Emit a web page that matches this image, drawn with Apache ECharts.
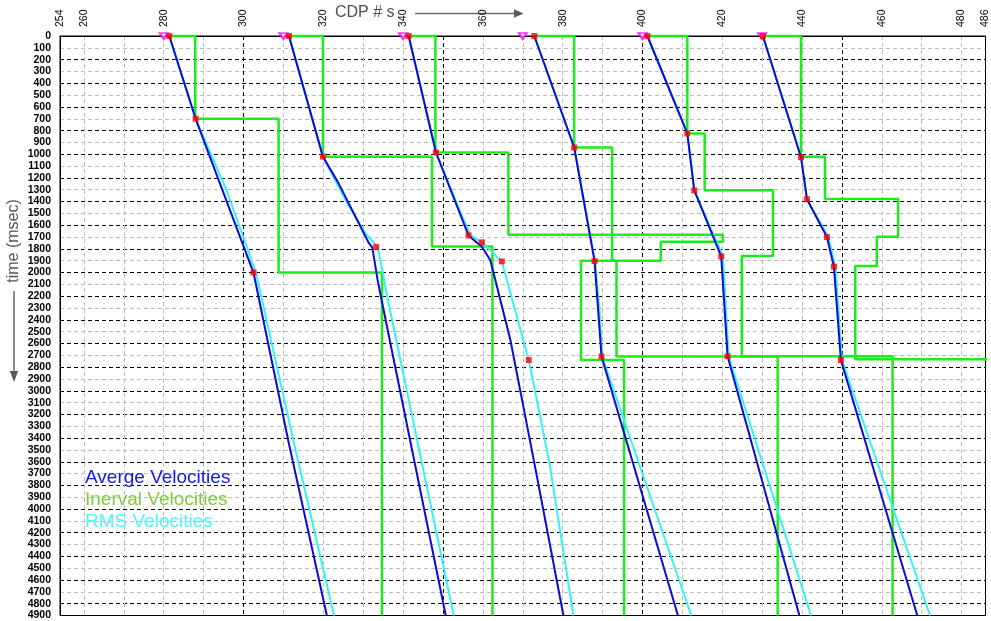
<!DOCTYPE html>
<html>
<head>
<meta charset="utf-8">
<script src="https://cdn.jsdelivr.net/npm/echarts@6/dist/echarts.min.js"></script>
<style>
  html, body { margin: 0; padding: 0; background: #fff; }
  #chart { width: 991px; height: 621px; }
</style>
</head>
<body>
<div id="chart"></div>
<script>
// axis values
const xLabelValues = [254, 260, 280, 300, 320, 340, 360, 380, 400, 420, 440, 460, 480, 486];
const xMinorGrid = [260, 270, 280, 290, 310, 320, 330, 340, 360, 370, 380, 390, 410, 420, 430, 440, 460, 470, 480];
const xMajorGrid = [300, 350, 400, 450];
const cdpLocations = [280, 310, 340, 370, 400, 430];

// [cdp, time] pairs
const avg280 = [[281.4, 0], [288.0, 700], [302.5, 2000], [311.4, 3450], [320.9, 4900]];
const rms280 = [[281.4, 0], [288.0, 700], [295.7, 1300], [303.1, 2000], [312.7, 3450], [322.7, 4900]];
const int280 = [[281.4, 0], [287.9, 0], [287.9, 700], [308.8, 700], [308.8, 2000], [334.7, 2000], [334.7, 4900]];
const picks280 = [[281.4, 0], [288.0, 700], [302.5, 2000]];

const avg310 = [[311.4, 0], [319.9, 1020], [323.9, 1250], [331.4, 1750], [332.3, 1790], [333.6, 2060], [334.6, 2230], [350.7, 4900]];
const rms310 = [[311.4, 0], [319.9, 1020], [325.6, 1390], [330.6, 1670], [333.6, 1785], [334.8, 1980], [336.0, 2200], [352.7, 4900]];
const int310 = [[311.4, 0], [319.9, 0], [319.9, 1020], [347.25, 1020], [347.25, 1780], [362.4, 1780], [362.4, 4900]];
const picks310 = [[311.4, 0], [319.9, 1020], [333.25, 1785]];

const avg340 = [[341.4, 0], [348.25, 985], [356.4, 1686], [359.75, 1782], [361.85, 1894], [362.7, 2007], [366.9, 2570], [372.9, 3609], [380.2, 4900]];
const rms340 = [[341.4, 0], [348.25, 985], [354.5, 1500], [357.0, 1686], [359.75, 1745], [364.75, 1906], [371.5, 2740], [376.7, 3609], [382.7, 4900]];
const int340 = [[341.4, 0], [348.1, 0], [348.1, 985], [366.4, 985], [366.4, 1680], [420.2, 1680], [420.2, 1740], [404.6, 1740], [404.6, 1900], [384.6, 1900], [384.6, 2740], [395.4, 2740], [395.4, 4900]];
const picks340 = [[341.4, 0], [348.25, 985], [356.4, 1686], [359.75, 1745], [364.75, 1906], [371.5, 2740]];

const avg370 = [[372.9, 0], [382.9, 943], [388.0, 1903], [389.75, 2710], [408.9, 4900]];
const rms370 = [[372.9, 0], [382.9, 943], [388.1, 1903], [389.2, 2300], [389.9, 2710], [412.25, 4900]];
const int370 = [[372.9, 0], [382.9, 0], [382.9, 943], [392.4, 943], [392.4, 1900], [393.5, 1900], [393.5, 2710], [433.9, 2710], [433.9, 4900]];
const picks370 = [[372.9, 0], [382.9, 943], [388.0, 1903], [389.75, 2710]];

const avg400 = [[401.25, 0], [411.25, 824], [413.0, 1306], [419.75, 1863], [421.35, 2708], [439.35, 4900]];
const rms400 = [[401.25, 0], [411.25, 824], [413.0, 1306], [420.2, 1863], [421.6, 2708], [442.25, 4900]];
const int400 = [[401.25, 0], [411.25, 0], [411.25, 824], [415.6, 824], [415.6, 1304], [432.7, 1304], [432.7, 1860], [424.9, 1860], [424.9, 2708], [462.7, 2708], [462.7, 4900]];
const picks400 = [[401.25, 0], [411.25, 824], [413.0, 1306], [419.75, 1863], [421.35, 2708]];

const avg430 = [[430.2, 0], [439.75, 1025], [441.25, 1380], [446.25, 1700], [448.0, 1950], [449.75, 2740], [468.9, 4900]];
const rms430 = [[430.2, 0], [439.75, 1025], [441.25, 1380], [446.6, 1700], [448.4, 1950], [450.0, 2740], [472.1, 4900]];
const int430 = [[430.2, 0], [439.75, 0], [439.75, 1022], [445.75, 1022], [445.75, 1379], [464.1, 1379], [464.1, 1698], [458.75, 1698], [458.75, 1945], [453.35, 1945], [453.35, 2733], [487.5, 2733]];
const picks430 = [[430.2, 0], [439.75, 1025], [441.25, 1380], [446.25, 1700], [448.0, 1950], [449.75, 2740]];

const AVG = 'Averge Velocities';
const INT = 'Inerval Velocities';
const RMS = 'RMS Velocities';
const FONT = '"Liberation Sans", Arial, sans-serif';

function lineSeries(name, data, color, width, z) {
  return {
    type: 'line', name: name, data: data, symbol: 'none', showSymbol: false,
    lineStyle: { color: color, width: width }, itemStyle: { color: color },
    z: z, clip: false, silent: true, animation: false
  };
}

const series = [];
[int280, int310, int340, int370, int400, int430].forEach(d => series.push(lineSeries(INT, d, '#1aee1a', 2.5, 2)));
[rms280, rms310, rms340, rms370, rms400, rms430].forEach(d => series.push(lineSeries(RMS, d, '#33f4f4', 2, 3)));
[avg280, avg310, avg340, avg370, avg400, avg430].forEach(d => series.push(lineSeries(AVG, d, '#0a0adc', 2, 4)));
series.push({
  type: 'scatter', data: cdpLocations.map(c => [c, 0]),
  symbol: 'triangle', symbolRotate: 180, symbolSize: [8, 6],
  itemStyle: { color: '#fff', borderColor: '#ff00ff', borderWidth: 2 },
  z: 5, clip: false, silent: true, animation: false
});
series.push({
  type: 'scatter',
  data: [].concat(picks280, picks310, picks340, picks370, picks400, picks430),
  symbol: 'rect', symbolSize: 6, itemStyle: { color: '#ff0000' },
  z: 6, clip: false, silent: true, animation: false
});

const chart = echarts.init(document.getElementById('chart'));
chart.setOption({
  animation: false,
  grid: { left: 60, top: 36, right: 5, bottom: 5, show: true, borderColor: '#000', borderWidth: 1 },
  legend: {
    orient: 'vertical', left: 80, top: 467, padding: 0, itemGap: 0,
    itemWidth: 0, itemHeight: 22, icon: 'none', selectedMode: false,
    textStyle: { fontFamily: FONT, fontSize: 19, lineHeight: 22 },
    data: [
      { name: AVG, textStyle: { color: '#1616f0' } },
      { name: INT, textStyle: { color: '#7fd040' } },
      { name: RMS, textStyle: { color: '#4cf8f8' } }
    ]
  },
  xAxis: [
    {
      type: 'value', position: 'top', min: 254, max: 486,
      axisLine: { show: true, lineStyle: { color: '#000' } },
      axisTick: { show: false, customValues: xLabelValues },
      axisLabel: {
        customValues: xLabelValues, rotate: 90, margin: 9,
        fontFamily: '"Liberation Sans Narrow", ' + FONT, fontSize: 10.5, color: '#000'
      },
      splitLine: { show: false }
    },
    {
      type: 'value', position: 'top', min: 254, max: 486,
      axisLine: { show: false }, axisLabel: { show: false },
      axisTick: { show: false, customValues: xMinorGrid },
      splitLine: { show: true, lineStyle: { color: '#bdbdbd', type: [4, 3] } }
    },
    {
      type: 'value', position: 'top', min: 254, max: 486,
      axisLine: { show: false }, axisLabel: { show: false },
      axisTick: { show: false, customValues: xMajorGrid },
      splitLine: { show: true, lineStyle: { color: '#000', type: [4, 3] } }
    }
  ],
  yAxis: [
    {
      type: 'value', inverse: true, min: 0, max: 4900, interval: 100,
      axisLine: { show: true, lineStyle: { color: '#000' } },
      axisTick: { show: false },
      axisLabel: {
        fontFamily: FONT, fontSize: 10.5, fontWeight: 'bold', color: '#000', margin: 9,
        formatter: v => String(v)
      },
      splitLine: { show: true, lineStyle: { color: '#bdbdbd', type: [4, 3] } }
    },
    {
      type: 'value', inverse: true, min: 0, max: 4900, interval: 200, position: 'left',
      axisLine: { show: false }, axisTick: { show: false }, axisLabel: { show: false },
      splitLine: { show: true, lineStyle: { color: '#000', type: [4, 3] } }
    }
  ],
  graphic: [
    { type: 'text', x: 335, y: 13, style: { text: 'CDP # s', font: '16px ' + FONT, fill: '#505050', verticalAlign: 'middle' } },
    { type: 'line', shape: { x1: 415, y1: 13.5, x2: 516, y2: 13.5 }, style: { stroke: '#6a6a6a', lineWidth: 1.5 } },
    { type: 'polygon', shape: { points: [[523.5, 13.5], [514, 9.3], [514, 17.7]] }, style: { fill: '#5a5a5a' } },
    { type: 'text', x: 14, y: 241, rotation: Math.PI / 2, style: { text: 'time (msec)', font: '16px ' + FONT, fill: '#555', align: 'center', verticalAlign: 'middle' } },
    { type: 'line', shape: { x1: 14, y1: 291, x2: 14, y2: 373 }, style: { stroke: '#6a6a6a', lineWidth: 1.5 } },
    { type: 'polygon', shape: { points: [[14, 382], [9.8, 371], [18.2, 371]] }, style: { fill: '#5a5a5a' } }
  ],
  series: series
});
</script>
</body>
</html>
